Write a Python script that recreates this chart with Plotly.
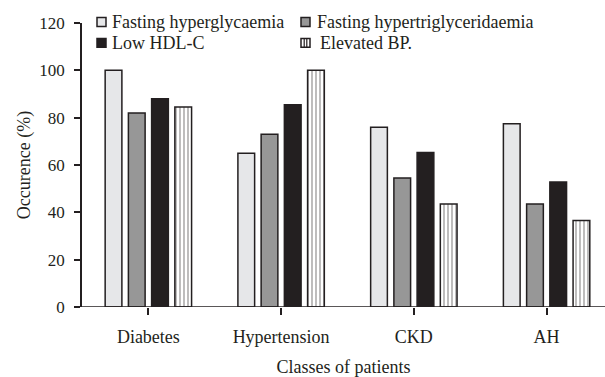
import plotly.graph_objects as go

# Occurrence of metabolic components by patient class
classes = ["Diabetes", "Hypertension", "CKD", "AH"]
fasting_hyperglycaemia = [100, 65, 76, 77.4]
fasting_hypertriglyceridaemia = [82, 73, 54.5, 43.5]
low_hdl_c = [88, 85.5, 65.3, 52.8]
elevated_bp = [84.5, 100, 43.5, 36.5]

y_ticks = [0, 20, 40, 60, 80, 100, 120]

INK = "#231f20"
FONT = "'Liberation Serif', 'Times New Roman', serif"
FILLS = ["#e6e7e9", "#979797", INK, "white"]
NAMES = ["Fasting hyperglycaemia", "Fasting hypertriglyceridaemia", "Low HDL-C", "Elevated BP."]

W, H = 605, 377
ML, MR, MT, MB = 82, 0, 23, 68
PW, PH = W - ML - MR, H - MT - MB


def px(x):
    return (x - ML) / PW


def py(y):
    return (H - MB - y) / PH


fig = go.Figure()

line = dict(color=INK, width=1.5)
series = [fasting_hyperglycaemia, fasting_hypertriglyceridaemia, low_hdl_c, elevated_bp]
for i, (name, vals) in enumerate(zip(NAMES, series)):
    marker = dict(color=FILLS[i], line=line)
    if i == 3:
        marker["pattern"] = dict(shape="|", fgcolor=INK, bgcolor="white", size=4, solidity=0.3)
    fig.add_trace(go.Bar(name=name, x=classes, y=vals, marker=marker, showlegend=False))

fig.update_layout(
    width=W, height=H,
    margin=dict(l=ML, r=MR, t=MT, b=MB),
    paper_bgcolor="white", plot_bgcolor="white",
    font=dict(family=FONT, size=18, color=INK),
    barmode="group", bargap=0.3, bargroupgap=0.28,
    xaxis=dict(range=[-0.5, 3.44], showline=False, ticks="outside", ticklen=7,
               tickwidth=1.5, tickcolor=INK, showgrid=False, zeroline=False,
               ticklabelstandoff=6,
               title=dict(text="Classes of patients", standoff=18,
                          font=dict(family=FONT, size=18, color=INK)),
               tickfont=dict(family=FONT, size=18, color=INK)),
    yaxis=dict(range=[0, 120], tickvals=y_ticks, showline=True, linecolor=INK, linewidth=1.5,
               ticks="outside", ticklen=6, tickwidth=1.5, tickcolor=INK,
               showgrid=False, zeroline=False, ticklabelstandoff=6,
               title=dict(text="Occurence (%)", standoff=4,
                          font=dict(family=FONT, size=18, color=INK)),
               tickfont=dict(family=FONT, size=17, color=INK)),
)

# baseline that runs a little past the y axis on the left
fig.add_shape(type="line", xref="paper", yref="y", x0=px(75), x1=1, y0=0, y1=0,
              line=dict(color=INK, width=1.5), layer="above")

# two-column key above the bars
key_pos = [(101.5, 22, 111), (305.5, 22, 316), (101.5, 43, 111), (305.5, 43, 319)]
for i, (cx, cy, tx) in enumerate(key_pos):
    s = 4.5
    fig.add_shape(type="rect", xref="paper", yref="paper",
                  x0=px(cx - s), x1=px(cx + s), y0=py(cy + s), y1=py(cy - s),
                  fillcolor=FILLS[i], line=dict(color=INK, width=1.5))
    if i == 3:
        for lx in (cx - 1.3, cx + 1.3):
            fig.add_shape(type="line", xref="paper", yref="paper",
                          x0=px(lx), x1=px(lx), y0=py(cy + s), y1=py(cy - s),
                          line=dict(color=INK, width=1.2))
    fig.add_annotation(xref="paper", yref="paper", x=px(tx), y=py(cy), text=NAMES[i],
                       showarrow=False, xanchor="left", yanchor="middle",
                       font=dict(family=FONT, size=18, color=INK), borderpad=0)

fig.write_html("out.html")
